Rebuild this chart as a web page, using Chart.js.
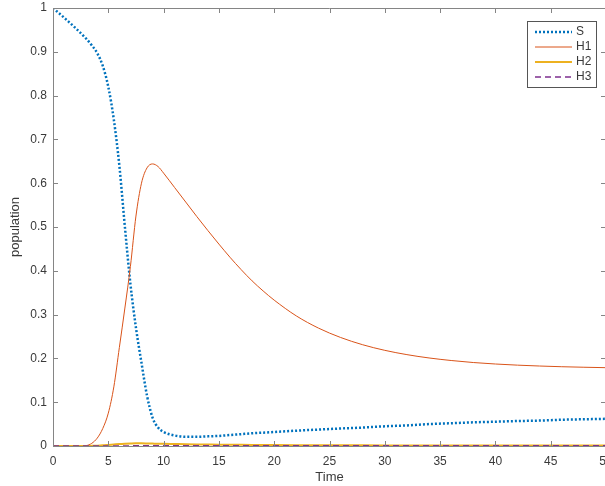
<!DOCTYPE html>
<html>
<head>
<meta charset="utf-8">
<script src="https://cdn.jsdelivr.net/npm/chart.js@4.4.1/dist/chart.umd.min.js"></script>
<style>
  html, body { margin: 0; padding: 0; background: #fff; overflow: hidden; }
  #wrap { width: 700px; height: 486px; position: relative; }
</style>
</head>
<body>
<div id="wrap"><canvas id="c"></canvas></div>
<script>
const times = [0,1,2,3,3.5,4,4.5,5,5.5,6,6.5,7,7.5,8,8.5,9,9.5,10,11,12,13,14,15,16,17,18,19,20,22,24,26,28,30,32,34,36,38,40,42,44,46,48,50];
const sValues = [1.0,0.978,0.955,0.93,0.915,0.897,0.868,0.82,0.745,0.64,0.5,0.37,0.27,0.19,0.115,0.065,0.042,0.032,0.024,0.021,0.021,0.022,0.023,0.025,0.027,0.029,0.0305,0.032,0.035,0.0375,0.040,0.042,0.045,0.047,0.050,0.052,0.054,0.0555,0.057,0.058,0.060,0.061,0.062];
const h1Values = [0,0,0,0.001,0.006,0.018,0.04,0.075,0.135,0.225,0.315,0.41,0.525,0.6,0.635,0.644,0.638,0.623,0.59,0.557,0.524,0.492,0.461,0.431,0.403,0.377,0.354,0.333,0.297,0.2692,0.2478,0.2312,0.2184,0.2086,0.201,0.1952,0.1906,0.1872,0.1846,0.1826,0.181,0.1798,0.1788];
const h2Values = [0,0,0,0,0.0003,0.0008,0.0015,0.0025,0.0035,0.0045,0.0052,0.0057,0.006,0.006,0.0058,0.0055,0.0052,0.005,0.0045,0.004,0.0036,0.0033,0.003,0.0028,0.0026,0.0024,0.0022,0.0021,0.0019,0.0017,0.0016,0.0015,0.0014,0.0013,0.0013,0.0012,0.0012,0.0011,0.0011,0.0011,0.001,0.001,0.001];
const h3Values = [0,0,0,0,0,0,0,0.0001,0.0001,0.0002,0.0002,0.0003,0.0003,0.0003,0.0003,0.0003,0.0003,0.0003,0.0003,0.0003,0.0003,0.0003,0.0003,0.0003,0.0003,0.0003,0.0003,0.0003,0.0003,0.0003,0.0003,0.0003,0.0003,0.0003,0.0003,0.0003,0.0003,0.0003,0.0003,0.0003,0.0003,0.0003,0.0003];
const seriesNames = ['S','H1','H2','H3'];
const xTicks = [0,5,10,15,20,25,30,35,40,45,50];
const yTicks = [0,0.1,0.2,0.3,0.4,0.5,0.6,0.7,0.8,0.9,1];
const xTitle = 'Time';
const yTitle = 'population';

const FONT = "'Liberation Sans', Arial, Helvetica, sans-serif";
const AXIS = '#858585';
const TEXT = '#3a3a3a';

function pts(vals) { return times.map((t, i) => ({ x: t, y: vals[i] })); }

const styles = [
  { color: '#0072BD', width: 2.5, dash: [2, 2] },
  { color: '#D95319', width: 1, dash: [] },
  { color: '#EDB120', width: 2, dash: [] },
  { color: '#7E2F8E', width: 1.5, dash: [6, 4] }
];
const allValues = [sValues, h1Values, h2Values, h3Values];

const datasets = allValues.map((v, i) => ({
  label: seriesNames[i],
  data: pts(v),
  borderColor: styles[i].color,
  backgroundColor: styles[i].color,
  borderWidth: styles[i].width,
  borderDash: styles[i].dash,
  pointRadius: 0,
  fill: false,
  cubicInterpolationMode: 'monotone',
  order: 3 - i
}));

const frame = {
  id: 'frame',
  afterDraw(chart) {
    const ctx = chart.ctx;
    const a = chart.chartArea;
    const xs = chart.scales.x, ys = chart.scales.y;
    ctx.save();
    ctx.strokeStyle = AXIS;
    ctx.lineWidth = 1;
    ctx.beginPath();
    ctx.moveTo(a.left, a.top + 0.5); ctx.lineTo(a.right, a.top + 0.5);
    ctx.moveTo(a.right - 0.5, a.top); ctx.lineTo(a.right - 0.5, a.bottom);
    const L = 5;
    xTicks.forEach(v => {
      const px = Math.round(xs.getPixelForValue(v)) + 0.5;
      ctx.moveTo(px, a.bottom); ctx.lineTo(px, a.bottom - L);
      ctx.moveTo(px, a.top); ctx.lineTo(px, a.top + L);
    });
    yTicks.forEach(v => {
      const py = Math.round(ys.getPixelForValue(v)) + 0.5;
      ctx.moveTo(a.left, py); ctx.lineTo(a.left + L, py);
      ctx.moveTo(a.right, py); ctx.lineTo(a.right - L, py);
    });
    ctx.stroke();

    // legend
    const bx = 527.5, by = 21.5, bw = 69, bh = 66;
    ctx.fillStyle = '#fff';
    ctx.fillRect(bx, by, bw, bh);
    ctx.strokeStyle = '#555';
    ctx.lineWidth = 1;
    ctx.strokeRect(bx, by, bw, bh);
    ctx.font = '12px ' + FONT;
    ctx.textBaseline = 'middle';
    ctx.textAlign = 'left';
    seriesNames.forEach((name, i) => {
      const y = 32 + i * 15;
      ctx.beginPath();
      ctx.strokeStyle = styles[i].color;
      ctx.lineWidth = styles[i].width;
      ctx.setLineDash(styles[i].dash);
      ctx.moveTo(535, y); ctx.lineTo(572, y);
      ctx.stroke();
      ctx.setLineDash([]);
      ctx.fillStyle = TEXT;
      ctx.fillText(name, 576, y);
    });
    ctx.restore();
  }
};

new Chart(document.getElementById('c'), {
  type: 'line',
  data: { datasets },
  plugins: [frame],
  options: {
    responsive: true,
    maintainAspectRatio: false,
    animation: false,
    devicePixelRatio: 1,
    layout: { padding: { left: 0, top: 8, right: 94, bottom: 0 } },
    plugins: { legend: { display: false }, tooltip: { enabled: false } },
    scales: {
      x: {
        type: 'linear', min: 0, max: 50,
        afterBuildTicks: s => { s.ticks = xTicks.map(v => ({ value: v })); },
        afterFit: s => { s.height = 40; s.paddingLeft = 0; s.paddingRight = 0; },
        grid: { display: false, drawTicks: false },
        border: { display: true, color: AXIS, width: 1 },
        ticks: { padding: 8, color: TEXT, font: { family: FONT, size: 12 }, maxRotation: 0, autoSkip: false },
        title: { display: true, text: xTitle, color: TEXT, font: { family: FONT, size: 13 }, padding: { top: 0, bottom: 1 } }
      },
      y: {
        type: 'linear', min: 0, max: 1,
        afterBuildTicks: s => { s.ticks = yTicks.map(v => ({ value: v })); },
        afterFit: s => { s.width = 53; s.paddingTop = 0; s.paddingBottom = 0; },
        grid: { display: false, drawTicks: false },
        border: { display: true, color: AXIS, width: 1 },
        ticks: { padding: 6, color: TEXT, font: { family: FONT, size: 12 }, autoSkip: false,
          callback: v => String(Math.round(v * 10) / 10) },
        title: { display: true, text: yTitle, color: TEXT, font: { family: FONT, size: 13 }, padding: { top: 8, bottom: 0 } }
      }
    }
  }
});
</script>
</body>
</html>
